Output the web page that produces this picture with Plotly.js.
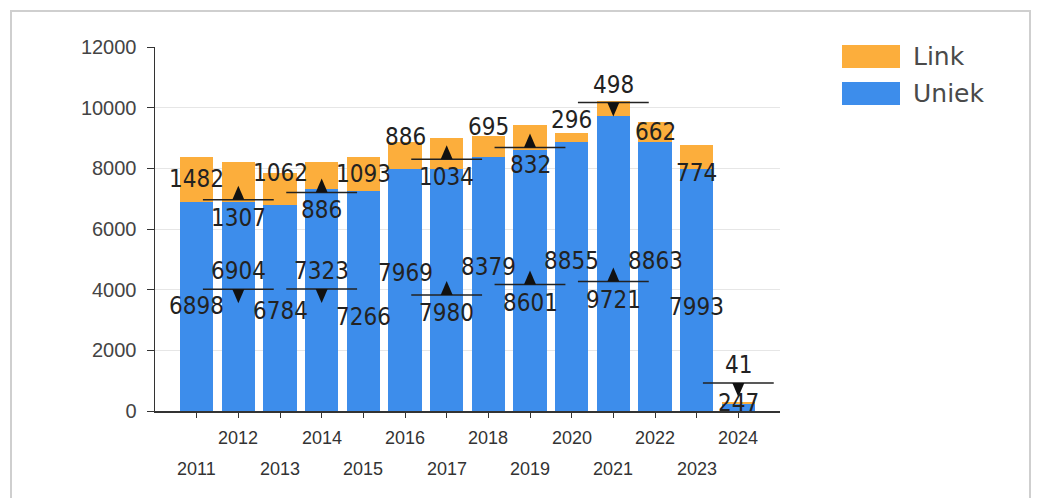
<!DOCTYPE html>
<html>
<head>
<meta charset="utf-8">
<script src="https://cdn.plot.ly/plotly-3.0.1.min.js"></script>
<style>html,body{margin:0;padding:0;background:#fff;}#chart{width:1039px;height:498px;}</style>
</head>
<body>
<div id="chart"></div>
<script>
// ---- data ----
const years = [2011, 2012, 2013, 2014, 2015, 2016, 2017, 2018, 2019, 2020, 2021, 2022, 2023, 2024];
const uniek = [6898, 6904, 6784, 7323, 7266, 7969, 7980, 8379, 8601, 8855, 9721, 8863, 7993, 247];
const link  = [1482, 1307, 1062, 886, 1093, 886, 1034, 695, 832, 296, 498, 662, 774, 41];
const yearLabels = years.map(String);
const seriesNames = ['Link', 'Uniek'];

// ---- label layout (pixel offsets, positive = down) ----
const linkShift  = [0, 0, -16, 0, 0, -19, 0, -19, 0, -18, 0, 0, 16, 0];
const uniekShift = [0, 0, 3, 0, 16, -17, 0, -17, 0, -16, 0, -16, 17, -4];
const linkLineOff  = [null, 18, null, 17, null, null, 6, null, 10, null, -6, null, null, -20];
const uniekLineOff = [null, -17, null, -11, null, null, 5, null, 4, null, 18, null, null, null];

const C_LINK = '#FCAE3C';
const C_UNIEK = '#3D8DEB';
const LBL_FONT = {family: 'DejaVu Sans Condensed, DejaVu Sans', size: 24, color: '#222'};

const traces = [
  {type: 'bar', name: 'Uniek', x: years, y: uniek, marker: {color: C_UNIEK}, hoverinfo: 'skip'},
  {type: 'bar', name: 'Link', x: years, y: link, marker: {color: C_LINK}, hoverinfo: 'skip'}
];

const annotations = [];
const shapes = [];

function addLabels(values, mids, shifts, lineOffs) {
  values.forEach((v, i) => {
    const mid = mids[i];
    const L = lineOffs[i];
    let off = shifts[i];
    if (L !== null) {
      off = L + Math.sign(L) * 18;
      shapes.push({type: 'line', xref: 'x', x0: years[i] - 0.85, x1: years[i] + 0.85,
        yref: 'y', ysizemode: 'pixel', yanchor: mid, y0: -L, y1: -L,
        line: {color: '#222', width: 1.5}});
      const base = -L;
      const tip = L > 0 ? base + 14 : base - 14;
      shapes.push({type: 'path', xref: 'x', xsizemode: 'pixel', xanchor: years[i],
        yref: 'y', ysizemode: 'pixel', yanchor: mid,
        path: `M -6,${base} L 6,${base} L 0,${tip} Z`,
        fillcolor: '#111', line: {width: 0}});
    }
    annotations.push({x: years[i], y: mid, xref: 'x', yref: 'y', text: String(v),
      showarrow: false, yanchor: 'middle', xanchor: 'center', yshift: -off, font: LBL_FONT});
  });
}

const uniekMid = uniek.map(v => v / 2);
const linkMid = link.map((v, i) => uniek[i] + v / 2);
addLabels(link, linkMid, linkShift, linkLineOff);
addLabels(uniek, uniekMid, uniekShift, uniekLineOff);

// x tick labels in two staggered rows
years.forEach((yr, i) => {
  annotations.push({x: yr, y: 0, xref: 'x', yref: 'paper', text: yearLabels[i], showarrow: false,
    yanchor: 'middle', yshift: (yr % 2 === 0) ? -27 : -58,
    font: {family: 'Liberation Sans, Arial', size: 18, color: '#333'}});
});

// custom legend (plot area: l=155, w=625, t=47, h=364)
const px = x => (x - 155) / 625;
const py = y => (411 - y) / 364;
const legendColors = [C_LINK, C_UNIEK];
const legendY = [[45, 68], [82, 105]];
seriesNames.forEach((n, i) => {
  shapes.push({type: 'rect', xref: 'paper', yref: 'paper', x0: px(842), x1: px(900),
    y0: py(legendY[i][1]), y1: py(legendY[i][0]), fillcolor: legendColors[i], line: {width: 0}});
  annotations.push({xref: 'paper', yref: 'paper', x: px(911), y: py((legendY[i][0] + legendY[i][1]) / 2),
    xanchor: 'left', yanchor: 'middle', text: n, showarrow: false,
    font: {family: 'DejaVu Sans', size: 25, color: '#4a4a4a'}});
});

// outer frame
shapes.push({type: 'rect', xref: 'paper', yref: 'paper', x0: px(11), x1: px(1030), y0: py(520), y1: py(11),
  line: {color: '#cfcfcf', width: 2}, fillcolor: 'rgba(0,0,0,0)', layer: 'below'});

const layout = {
  width: 1039, height: 498,
  margin: {l: 155, r: 259, t: 47, b: 87},
  paper_bgcolor: '#fff', plot_bgcolor: '#fff',
  barmode: 'stack', bargap: 0.2,
  showlegend: false,
  xaxis: {range: [2010, 2025], tickvals: years, showticklabels: false, ticks: 'outside', ticklen: 5,
    tickcolor: '#333', showline: true, linecolor: '#333', linewidth: 1.5, showgrid: false, zeroline: false, fixedrange: true},
  yaxis: {range: [0, 12000], dtick: 2000, tickformat: 'd', ticks: 'outside', ticklen: 7, tickcolor: '#333',
    showline: true, linecolor: '#333', linewidth: 1.5, showgrid: true, gridcolor: '#e6e6e6',
    zeroline: false, ticklabelstandoff: 6,
    tickfont: {family: 'Liberation Sans, Arial', size: 20, color: '#444'}, fixedrange: true},
  annotations: annotations,
  shapes: shapes
};

Plotly.newPlot('chart', traces, layout, {displayModeBar: false, staticPlot: true});
</script>
</body>
</html>
